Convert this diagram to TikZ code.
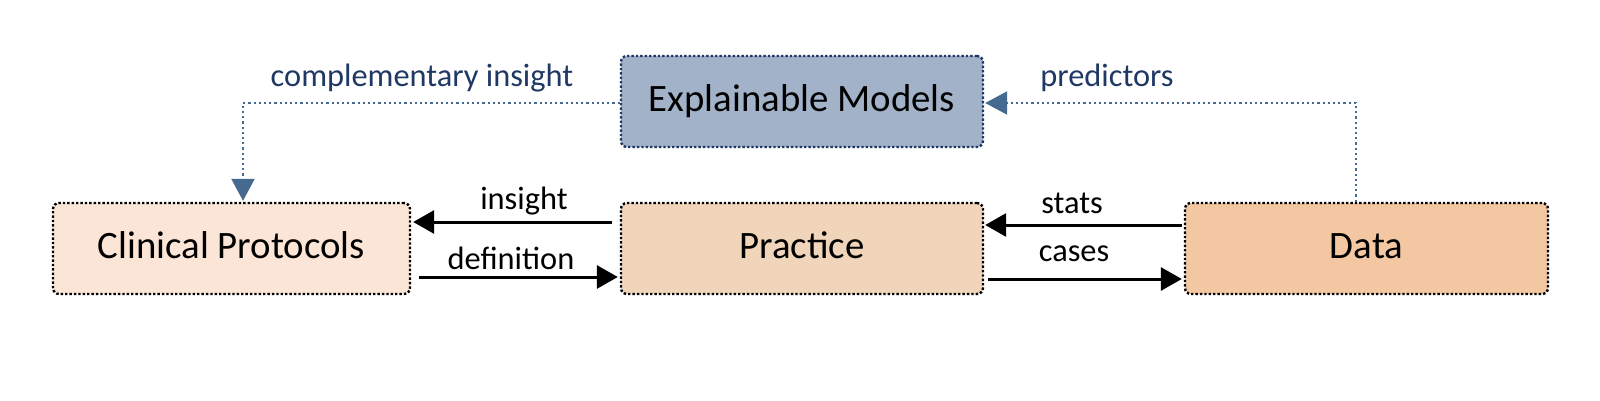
\documentclass[tikz,border=0pt]{standalone}
\usepackage{fontspec}
\setmainfont{Carlito}
\usetikzlibrary{arrows.meta,calc}
\definecolor{clinfill}{HTML}{FBE5D6}
\definecolor{pracfill}{HTML}{F1D5BA}
\definecolor{datafill}{HTML}{F3C7A1}
\definecolor{modfill}{HTML}{A2B2C8}
\definecolor{modborder}{HTML}{203864}
\definecolor{conncol}{HTML}{46698F}
\definecolor{lblblue}{HTML}{1F3864}
\begin{document}
\begin{tikzpicture}[x=0.5pt,y=-0.5pt,
  box/.style={draw=black, line width=1.2pt, dash pattern=on 1.2pt off 1pt,
    rounded corners=3pt, inner sep=0pt, minimum height=45.5pt,
    text height=1.0em, text depth=0pt,
    font=\fontsize{19.4}{23}\selectfont},
  lbl/.style={inner sep=0pt, anchor=base, font=\fontsize{16.2}{19}\selectfont},
  bluelbl/.style={lbl, text=lblblue},
  arr/.style={draw=black, line width=1.5pt, -{Triangle[length=10.5pt,width=11.5pt]}},
  bluearr/.style={draw=conncol, line width=1.1pt, dash pattern=on 1.1pt off 1.5pt,
    -{Triangle[length=11pt,width=11.5pt,fill=conncol]}}
]
\useasboundingbox (0,0) rectangle (1600,401);

\node[box, fill=clinfill, minimum width=178.5pt] (C) at (231.5,248.5) {Clinical Protocols};
\node[box, fill=pracfill, minimum width=181pt] (P) at (802,248.5) {Practice};
\node[box, fill=datafill, minimum width=181.5pt] (D) at (1366.5,248.5) {Data};
\node[box, fill=modfill, draw=modborder, minimum width=181pt] (M) at (802,101.5) {Explainable Models};

% black arrows
\draw[arr] ($(P.west)+(-8,-26.5)$) -- ($(C.east)+(2,-26.5)$);
\draw[arr] ($(C.east)+(8,28.5)$) -- ($(P.west)+(-2,28.5)$);
\draw[arr] ($(D.west)+(-2,-23.5)$) -- ($(P.east)+(1,-23.5)$);
\draw[arr] ($(P.east)+(4,30.5)$) -- ($(D.west)+(-2,30.5)$);

% blue dotted connectors
\draw[bluearr] ($(M.west)+(0,1.5)$) -| ($(C.north)+(11.5,-1)$);
\draw[bluearr] ($(D.north)+(-10.5,0)$) |- ($(M.east)+(1,1.5)$);

% labels
\node[bluelbl] (lci) at (422,87) {complementary insight};
\node[bluelbl] (lpr) at (1107,87) {predictors};
\node[lbl] (lin) at (524,209) {insight};
\node[lbl] (lde) at (511,269) {definition};
\node[lbl] (lst) at (1072,213) {stats};
\node[lbl] (lca) at (1074,261) {cases};
\end{tikzpicture}
\end{document}
